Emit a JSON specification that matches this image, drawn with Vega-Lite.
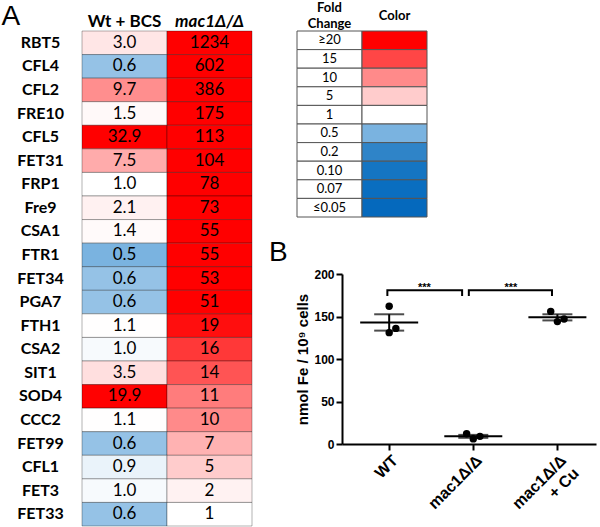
{
  "$schema": "https://vega.github.io/schema/vega-lite/v6.json",
  "background": "white",
  "padding": {"left": 1, "top": 1, "right": 4, "bottom": 0},
  "bounds": "flush",
  "spacing": 90,
  "config": {"view": {"stroke": null}},
  "datasets": {
    "heat": [
      {"gene": "RBT5", "cond": "Wt + BCS", "fc": 3.0, "label": "3.0"},
      {"gene": "RBT5", "cond": "mac1Δ/Δ", "fc": 1234, "label": "1234"},
      {"gene": "CFL4", "cond": "Wt + BCS", "fc": 0.6, "label": "0.6"},
      {"gene": "CFL4", "cond": "mac1Δ/Δ", "fc": 602, "label": "602"},
      {"gene": "CFL2", "cond": "Wt + BCS", "fc": 9.7, "label": "9.7"},
      {"gene": "CFL2", "cond": "mac1Δ/Δ", "fc": 386, "label": "386"},
      {"gene": "FRE10", "cond": "Wt + BCS", "fc": 1.5, "label": "1.5"},
      {"gene": "FRE10", "cond": "mac1Δ/Δ", "fc": 175, "label": "175"},
      {"gene": "CFL5", "cond": "Wt + BCS", "fc": 32.9, "label": "32.9"},
      {"gene": "CFL5", "cond": "mac1Δ/Δ", "fc": 113, "label": "113"},
      {"gene": "FET31", "cond": "Wt + BCS", "fc": 7.5, "label": "7.5"},
      {"gene": "FET31", "cond": "mac1Δ/Δ", "fc": 104, "label": "104"},
      {"gene": "FRP1", "cond": "Wt + BCS", "fc": 1.0, "label": "1.0"},
      {"gene": "FRP1", "cond": "mac1Δ/Δ", "fc": 78, "label": "78"},
      {"gene": "Fre9", "cond": "Wt + BCS", "fc": 2.1, "label": "2.1"},
      {"gene": "Fre9", "cond": "mac1Δ/Δ", "fc": 73, "label": "73"},
      {"gene": "CSA1", "cond": "Wt + BCS", "fc": 1.4, "label": "1.4"},
      {"gene": "CSA1", "cond": "mac1Δ/Δ", "fc": 55, "label": "55"},
      {"gene": "FTR1", "cond": "Wt + BCS", "fc": 0.5, "label": "0.5"},
      {"gene": "FTR1", "cond": "mac1Δ/Δ", "fc": 55, "label": "55"},
      {"gene": "FET34", "cond": "Wt + BCS", "fc": 0.6, "label": "0.6"},
      {"gene": "FET34", "cond": "mac1Δ/Δ", "fc": 53, "label": "53"},
      {"gene": "PGA7", "cond": "Wt + BCS", "fc": 0.6, "label": "0.6"},
      {"gene": "PGA7", "cond": "mac1Δ/Δ", "fc": 51, "label": "51"},
      {"gene": "FTH1", "cond": "Wt + BCS", "fc": 1.1, "label": "1.1"},
      {"gene": "FTH1", "cond": "mac1Δ/Δ", "fc": 19, "label": "19"},
      {"gene": "CSA2", "cond": "Wt + BCS", "fc": 0.97, "label": "1.0"},
      {"gene": "CSA2", "cond": "mac1Δ/Δ", "fc": 16, "label": "16"},
      {"gene": "SIT1", "cond": "Wt + BCS", "fc": 3.5, "label": "3.5"},
      {"gene": "SIT1", "cond": "mac1Δ/Δ", "fc": 14, "label": "14"},
      {"gene": "SOD4", "cond": "Wt + BCS", "fc": 19.9, "label": "19.9"},
      {"gene": "SOD4", "cond": "mac1Δ/Δ", "fc": 11, "label": "11"},
      {"gene": "CCC2", "cond": "Wt + BCS", "fc": 1.1, "label": "1.1"},
      {"gene": "CCC2", "cond": "mac1Δ/Δ", "fc": 10, "label": "10"},
      {"gene": "FET99", "cond": "Wt + BCS", "fc": 0.6, "label": "0.6"},
      {"gene": "FET99", "cond": "mac1Δ/Δ", "fc": 7, "label": "7"},
      {"gene": "CFL1", "cond": "Wt + BCS", "fc": 0.92, "label": "0.9"},
      {"gene": "CFL1", "cond": "mac1Δ/Δ", "fc": 5, "label": "5"},
      {"gene": "FET3", "cond": "Wt + BCS", "fc": 0.97, "label": "1.0"},
      {"gene": "FET3", "cond": "mac1Δ/Δ", "fc": 2, "label": "2"},
      {"gene": "FET33", "cond": "Wt + BCS", "fc": 0.6, "label": "0.6"},
      {"gene": "FET33", "cond": "mac1Δ/Δ", "fc": 1, "label": "1"}
    ],
    "key": [
      {"lab": "≥20", "fc": 20},
      {"lab": "15", "fc": 15},
      {"lab": "10", "fc": 10},
      {"lab": "5", "fc": 5},
      {"lab": "1", "fc": 1},
      {"lab": "0.5", "fc": 0.5},
      {"lab": "0.2", "fc": 0.2},
      {"lab": "0.10", "fc": 0.1},
      {"lab": "0.07", "fc": 0.07},
      {"lab": "≤0.05", "fc": 0.05}
    ],
    "fe": [
      {"grp": "WT", "rep": "C", "fe": 162},
      {"grp": "WT", "rep": "C", "fe": 131},
      {"grp": "WT", "rep": "R", "fe": 136},
      {"grp": "mac1Δ/Δ", "rep": "L", "fe": 12},
      {"grp": "mac1Δ/Δ", "rep": "C", "fe": 6},
      {"grp": "mac1Δ/Δ", "rep": "R", "fe": 9},
      {"grp": "mac1Δ/Δ + Cu", "rep": "L", "fe": 156},
      {"grp": "mac1Δ/Δ + Cu", "rep": "C", "fe": 144},
      {"grp": "mac1Δ/Δ + Cu", "rep": "R", "fe": 147}
    ],
    "brk": [
      {"b": 1, "o": 1, "x": 0.98, "y": 174},
      {"b": 1, "o": 2, "x": 0.98, "y": 181},
      {"b": 1, "o": 3, "x": 1.87, "y": 181},
      {"b": 1, "o": 4, "x": 1.87, "y": 174},
      {"b": 2, "o": 1, "x": 1.95, "y": 174},
      {"b": 2, "o": 2, "x": 1.95, "y": 181},
      {"b": 2, "o": 3, "x": 2.94, "y": 181},
      {"b": 2, "o": 4, "x": 2.94, "y": 174}
    ],
    "stars": [
      {"x": 1.42, "y": 181, "t": "***"},
      {"x": 2.45, "y": 181, "t": "***"}
    ]
  },
  "hconcat": [
    {
      "width": 170,
      "height": 495,
      "data": {"name": "heat"},
      "title": {"text": "A", "anchor": "start", "frame": "bounds", "font": "Liberation Sans", "fontSize": 28, "fontWeight": "normal", "color": "black", "baseline": "alphabetic", "offset": -41, "dx": -15},
      "encoding": {
        "x": {"field": "cond", "type": "nominal", "sort": null, "scale": {"type": "band", "paddingInner": 0, "paddingOuter": 0},
          "axis": {"orient": "top", "title": null, "domain": false, "ticks": false, "labelAngle": 0, "labelFont": "Lato", "labelFontSize": 17, "labelFontWeight": "bold", "labelColor": "black", "labelBaseline": "alphabetic", "labelPadding": 5,
            "labelFontStyle": {"condition": {"test": "datum.value != 'Wt + BCS'", "value": "italic"}, "value": "normal"}}},
        "y": {"field": "gene", "type": "nominal", "sort": null, "scale": {"type": "band", "paddingInner": 0, "paddingOuter": 0},
          "axis": {"title": null, "domain": false, "ticks": false, "tickSize": 0, "labelFont": "Lato", "labelFontSize": 16, "labelFontWeight": "bold", "labelColor": "black", "labelAlign": "center", "labelPadding": 42}}
      },
      "layer": [
        {"mark": {"type": "rect", "width": 85, "height": {"band": 1}, "stroke": "#000000", "strokeOpacity": 0.3, "strokeWidth": 1},
          "encoding": {"color": {"field": "fc", "type": "quantitative", "legend": null,
            "scale": {"type": "linear", "domain": [0.05, 0.07, 0.1, 0.2, 0.5, 1, 5, 10, 15, 20], "range": ["#0569bd", "#0a6ec0", "#1575c2", "#2f84c8", "#7ab3e0", "#ffffff", "#ffcccc", "#ff8a8a", "#ff4646", "#ff0000"], "clamp": true, "interpolate": "rgb"}}}},
        {"mark": {"type": "text", "font": "Lato", "fontSize": 17, "color": "black"},
          "encoding": {"text": {"field": "label", "type": "nominal"}}}
      ]
    },
    {
      "vconcat": [
        {
          "width": 130,
          "height": 186,
          "data": {"name": "key"},
          "encoding": {
            "y": {"field": "lab", "type": "nominal", "sort": null, "scale": {"type": "band", "paddingInner": 0, "paddingOuter": 0}, "axis": null}
          },
          "layer": [
            {"mark": {"type": "rect", "width": 65, "height": {"band": 1}, "fill": "white", "stroke": "#555555", "strokeWidth": 1},
              "encoding": {"x": {"datum": "Fold Change", "type": "nominal",
                "scale": {"type": "band", "domain": ["Fold Change", "Color"], "range": [-45, 85], "paddingInner": 0, "paddingOuter": 0},
                "axis": {"orient": "top", "title": null, "domain": false, "ticks": false, "labelAngle": 0, "labelFont": "Lato", "labelFontSize": 13, "labelFontWeight": "bold", "labelColor": "black", "labelBaseline": "middle", "labelLineHeight": 16,
                  "labelPadding": {"condition": {"test": "datum.value == 'Color'", "value": 16}, "value": 24},
                  "labelExpr": "datum.value == 'Fold Change' ? ['Fold', 'Change'] : datum.value"}}}},
            {"mark": {"type": "rect", "width": 65, "height": {"band": 1}, "stroke": "#555555", "strokeWidth": 1},
              "encoding": {"x": {"datum": "Color", "type": "nominal"},
                "color": {"field": "fc", "type": "quantitative", "legend": null,
                  "scale": {"type": "linear", "domain": [0.05, 0.07, 0.1, 0.2, 0.5, 1, 5, 10, 15, 20], "range": ["#0569bd", "#0a6ec0", "#1575c2", "#2f84c8", "#7ab3e0", "#ffffff", "#ffcccc", "#ff8a8a", "#ff4646", "#ff0000"], "clamp": true, "interpolate": "rgb"}}}},
            {"mark": {"type": "text", "font": "Lato", "fontSize": 13, "color": "black"},
              "encoding": {"x": {"datum": "Fold Change", "type": "nominal"}, "text": {"field": "lab", "type": "nominal"}}}
          ]
        },
        {
          "width": 254,
          "height": 170,
          "title": {"text": "B", "anchor": "start", "frame": "bounds", "font": "Liberation Sans", "fontSize": 28, "fontWeight": "normal", "color": "black", "baseline": "alphabetic", "offset": -21, "dx": -27},
          "layer": [
            {
              "data": {"name": "fe"},
              "encoding": {
                "x": {"field": "grp", "type": "nominal", "sort": null, "scale": {"type": "point", "padding": 0.51, "align": 0.55},
                  "axis": {"title": null, "labelAngle": -45, "labelFont": "Liberation Sans", "labelFontSize": 16, "labelFontWeight": "bold", "labelColor": "black", "domainColor": "black", "domainWidth": 2, "tickColor": "black", "tickWidth": 2, "tickSize": 6, "labelLineHeight": 18,
                    "labelExpr": "datum.value == 'mac1Δ/Δ + Cu' ? ['mac1Δ/Δ', '+ Cu'] : datum.value"}},
                "y": {"field": "fe", "type": "quantitative", "scale": {"domain": [0, 200], "nice": false},
                  "axis": {"title": "nmol Fe / 10⁹ cells", "values": [0, 50, 100, 150, 200], "grid": false, "domainColor": "black", "domainWidth": 2, "tickColor": "black", "tickWidth": 2, "tickSize": 6, "labelFont": "Liberation Sans", "labelFontSize": 12, "labelFontWeight": "bold", "labelColor": "black", "titleFont": "Liberation Sans", "titleFontSize": 15, "titleFontWeight": "bold", "titleColor": "black", "titlePadding": 3}}
              },
              "layer": [
                {"mark": {"type": "circle", "size": 55, "color": "black", "opacity": 1},
                  "encoding": {"xOffset": {"field": "rep", "type": "nominal", "scale": {"type": "point", "domain": ["L", "C", "R"], "range": [-10, 10]}}}},
                {"mark": {"type": "errorbar", "extent": "stderr", "color": "black", "thickness": 2, "ticks": {"size": 30}}},
                {"mark": {"type": "tick", "size": 58, "thickness": 2, "color": "black", "orient": "horizontal"},
                  "encoding": {"y": {"aggregate": "mean", "field": "fe", "type": "quantitative", "scale": {"domain": [0, 200], "nice": false},
                    "axis": {"title": "nmol Fe / 10⁹ cells", "values": [0, 50, 100, 150, 200], "grid": false, "domainColor": "black", "domainWidth": 2, "tickColor": "black", "tickWidth": 2, "tickSize": 6, "labelFont": "Liberation Sans", "labelFontSize": 12, "labelFontWeight": "bold", "labelColor": "black", "titleFont": "Liberation Sans", "titleFontSize": 15, "titleFontWeight": "bold", "titleColor": "black", "titlePadding": 3}}}}
              ]
            },
            {
              "encoding": {
                "x": {"field": "x", "type": "quantitative", "scale": {"domain": [0.44, 3.464], "nice": false, "zero": false}, "axis": null},
                "y": {"field": "y", "type": "quantitative", "scale": {"domain": [0, 200], "nice": false},
                  "axis": {"title": "nmol Fe / 10⁹ cells", "values": [0, 50, 100, 150, 200], "grid": false, "domainColor": "black", "domainWidth": 2, "tickColor": "black", "tickWidth": 2, "tickSize": 6, "labelFont": "Liberation Sans", "labelFontSize": 12, "labelFontWeight": "bold", "labelColor": "black", "titleFont": "Liberation Sans", "titleFontSize": 15, "titleFontWeight": "bold", "titleColor": "black", "titlePadding": 3}}
              },
              "layer": [
                {"data": {"name": "brk"}, "mark": {"type": "line", "color": "black", "strokeWidth": 2},
                  "encoding": {"detail": {"field": "b", "type": "nominal"}, "order": {"field": "o", "type": "quantitative"}}},
                {"data": {"name": "stars"}, "mark": {"type": "text", "font": "Liberation Sans", "fontSize": 11, "fontWeight": "bold", "color": "black", "baseline": "alphabetic", "dy": 1},
                  "encoding": {"text": {"field": "t", "type": "nominal"}}}
              ]
            }
          ],
          "resolve": {"scale": {"x": "independent"}}
        }
      ],
      "spacing": 57,
      "bounds": "flush"
    }
  ]
}
